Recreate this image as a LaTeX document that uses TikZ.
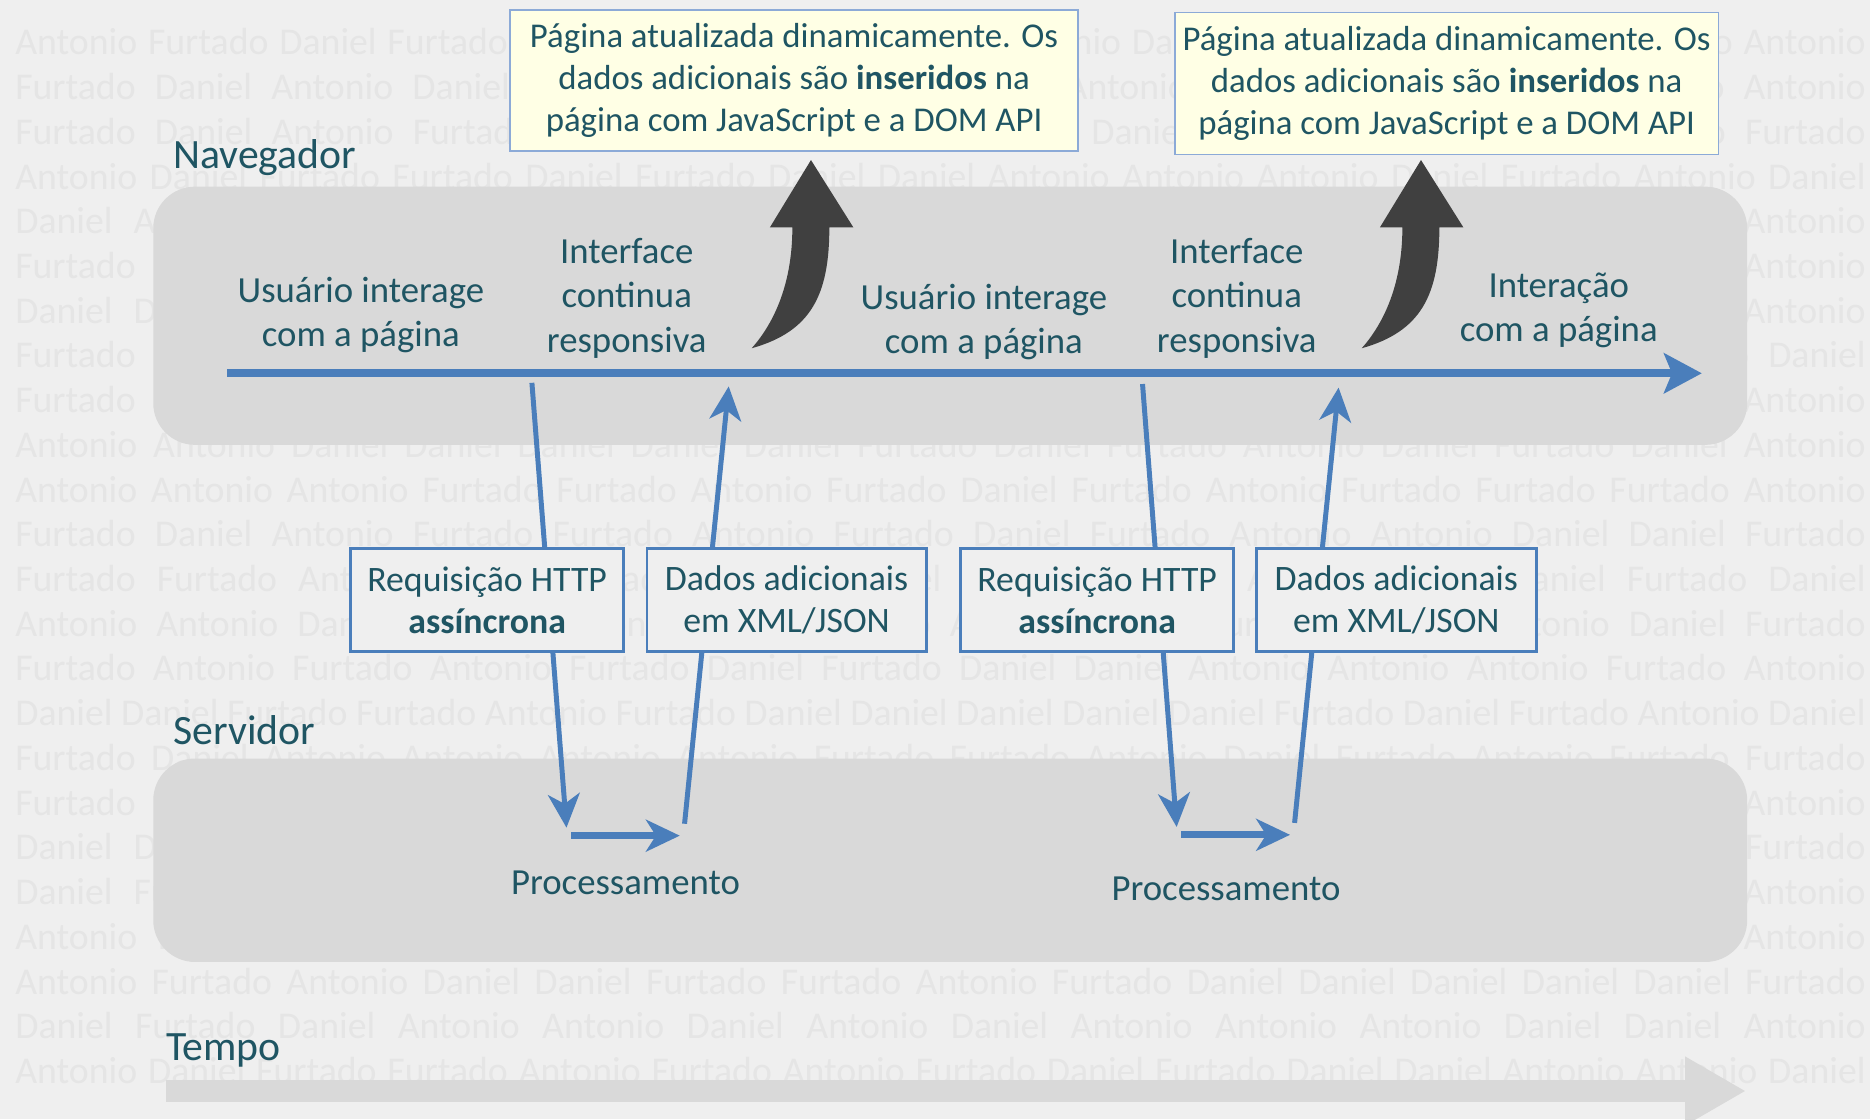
\documentclass[tikz,border=0pt]{standalone}
\usepackage{fontspec}
\setmainfont{Carlito}
\usetikzlibrary{arrows.meta, positioning}
\definecolor{bgcol}{RGB}{239,239,239}
\definecolor{bandcol}{RGB}{217,217,217}
\definecolor{wmcol}{RGB}{229,229,229}
\definecolor{txtcol}{RGB}{31,85,99}
\definecolor{bluecol}{RGB}{74,126,187}
\definecolor{notefill}{RGB}{255,255,229}
\definecolor{notedraw}{RGB}{140,170,215}
\definecolor{curvecol}{RGB}{64,64,64}

\begin{document}
\begin{tikzpicture}[x=0.6pt, y=-0.6pt,
    hdr/.style={text=txtcol, font=\fontsize{21}{25}\selectfont, inner sep=0, anchor=base west},
    lbl/.style={text=txtcol, font=\fontsize{18.5}{22.3}\selectfont, align=center, inner sep=0},
    wmark/.style={text=wmcol, font=\fontsize{19}{22}\selectfont, inner sep=0, anchor=base west},
    notebox/.style={draw=notedraw, line width=0.8pt, fill=notefill, text=txtcol,
        font=\fontsize{17.5}{21}\selectfont, align=center, inner sep=0},
    msgbox/.style={draw=bluecol, line width=1.5pt, fill=bgcol, text=txtcol,
        font=\fontsize{18}{21}\selectfont, align=center, inner sep=0, minimum height=52.3pt},
    msg/.style={draw=bluecol, line width=2.5pt, -{Stealth[length=17pt, width=16pt, inset=5pt]}},
    proc/.style={draw=bluecol, line width=3.4pt, -{Stealth[length=17pt, width=16pt, inset=5pt]}}]

    % background and watermark
    \fill[bgcol] (0,0) rectangle (1568,938.3);
    \useasboundingbox (0,0) rectangle (1568,938.3);
    \foreach \wrow [count=\i from 0] in {
        Antonio Furtado Daniel Furtado Daniel Antonio Daniel Furtado Antonio Daniel Antonio Furtado Daniel Furtado Antonio,
        Furtado Daniel Antonio Daniel Furtado Antonio Furtado Daniel Antonio Furtado Daniel Furtado Antonio Antonio,
        Furtado Daniel Antonio Furtado Daniel Antonio Antonio Furtado Daniel Furtado Daniel Antonio Furtado Furtado,
        Antonio Daniel Furtado Furtado Daniel Furtado Daniel Daniel Antonio Antonio Antonio Daniel Furtado Antonio Daniel,
        Daniel Antonio Furtado Daniel Antonio Furtado Daniel Furtado Antonio Daniel Furtado Daniel Furtado Antonio,
        Furtado Antonio Daniel Furtado Daniel Antonio Furtado Daniel Antonio Daniel Furtado Daniel Antonio Antonio,
        Daniel Daniel Furtado Antonio Furtado Daniel Antonio Furtado Daniel Antonio Furtado Daniel Furtado Antonio,
        Furtado Antonio Daniel Antonio Furtado Daniel Furtado Antonio Daniel Furtado Antonio Furtado Antonio Daniel,
        Furtado Daniel Antonio Furtado Antonio Daniel Furtado Daniel Antonio Furtado Daniel Antonio Furtado Antonio,
        Antonio Antonio Daniel Daniel Daniel Daniel Daniel Furtado Daniel Furtado Antonio Daniel Furtado Daniel Antonio,
        Antonio Antonio Antonio Furtado Furtado Antonio Furtado Daniel Furtado Antonio Furtado Furtado Furtado Antonio,
        Furtado Daniel Antonio Furtado Furtado Antonio Furtado Daniel Furtado Antonio Antonio Daniel Daniel Furtado,
        Furtado Furtado Antonio Daniel Furtado Antonio Daniel Furtado Antonio Antonio Daniel Daniel Furtado Daniel,
        Antonio Antonio Daniel Furtado Antonio Daniel Furtado Antonio Daniel Furtado Antonio Antonio Daniel Furtado,
        Furtado Antonio Furtado Antonio Furtado Daniel Furtado Daniel Daniel Antonio Antonio Antonio Furtado Antonio,
        Daniel Daniel Furtado Furtado Antonio Furtado Daniel Daniel Daniel Daniel Daniel Furtado Daniel Furtado Antonio Daniel,
        Furtado Daniel Antonio Antonio Antonio Antonio Furtado Furtado Antonio Daniel Furtado Antonio Furtado Furtado,
        Furtado Antonio Daniel Furtado Daniel Antonio Furtado Daniel Furtado Antonio Daniel Furtado Daniel Antonio,
        Daniel Daniel Antonio Furtado Antonio Daniel Furtado Antonio Daniel Antonio Furtado Daniel Antonio Furtado,
        Daniel Furtado Antonio Daniel Furtado Antonio Daniel Furtado Antonio Daniel Furtado Daniel Furtado Antonio,
        Antonio Daniel Furtado Antonio Daniel Furtado Antonio Daniel Furtado Antonio Daniel Furtado Daniel Antonio,
        Antonio Furtado Antonio Daniel Daniel Furtado Furtado Antonio Furtado Daniel Daniel Daniel Daniel Daniel Furtado,
        Daniel Furtado Daniel Antonio Antonio Daniel Antonio Daniel Antonio Antonio Antonio Daniel Daniel Antonio,
        Antonio Daniel Furtado Furtado Antonio Furtado Antonio Furtado Daniel Furtado Daniel Daniel Antonio Antonio Daniel}
        \node[wmark] (wm\i) at (12.5, 46+37.5*\i) {\makebox[931.2pt][s]{\wrow}};

    % bands
    \fill[bandcol, rounded corners=21pt] (128.5,156.5) rectangle (1465,373);
    \fill[bandcol, rounded corners=21pt] (128.5,636) rectangle (1465,806.6);
    \node[hdr] (nav) at (145,141) {Navegador};
    \node[hdr] (serv) at (145,624) {Servidor};
    \node[hdr] (tempo) at (139,889.3) {Tempo};

    % time axes
    \coordinate (tp0) at (139,914.8);
    \coordinate (tp1) at (1464,914.8);
    \draw[bandcol, line width=11pt, -{Triangle[length=30.6pt, width=32.4pt]}] (tp0) -- (tp1);
    \coordinate (tl0) at (190.5,313);
    \coordinate (tl1) at (1427,313);
    \draw[bluecol, line width=4pt, -{Stealth[length=19pt, width=20pt, inset=4pt]}] (tl0) -- (tl1);

    % curved arrows up to the notes
    \coordinate (cv1) at (630.3,292);
    \coordinate (cv2) at (1141.8,292);
    \foreach \c in {cv1, cv2}
        \fill[curvecol, shift={(\c)}] (0,0) .. controls (50,-14) and (65.1,-45) .. (65.1,-101.4)
            -- (85.2,-101.4) -- (49.7,-157.8) -- (15.3,-101.4) -- (34.1,-101.4)
            .. controls (34.1,-50) and (16,-18) .. (0,0) -- cycle;

    % messages
    \coordinate (rq1a) at (446,321);
    \coordinate (rq1b) at (475,694);
    \coordinate (pr1a) at (479,700.7);
    \coordinate (pr1b) at (570,700.7);
    \coordinate (rs1a) at (574,690.7);
    \coordinate (rs1b) at (611,324);
    \coordinate (rq2a) at (958,322);
    \coordinate (rq2b) at (986.6,693.4);
    \coordinate (pr2a) at (990.6,700);
    \coordinate (pr2b) at (1081.7,700);
    \coordinate (rs2a) at (1085.5,690);
    \coordinate (rs2b) at (1122.4,325);
    \draw[msg] (rq1a) -- (rq1b);
    \draw[proc] (pr1a) -- (pr1b);
    \draw[msg] (rs1a) -- (rs1b);
    \draw[msg] (rq2a) -- (rq2b);
    \draw[proc] (pr2a) -- (pr2b);
    \draw[msg] (rs2a) -- (rs2b);

    \node[msgbox, minimum width=137.4pt] (req1) at (408.5,503.1) {Requisição HTTP\\\textbf{assíncrona}};
    \node[msgbox, minimum width=140.4pt] (dat1) at (659.5,503.1) {Dados adicionais\\em XML/JSON};
    \node[msgbox, minimum width=137.4pt] (req2) at (920,503.1) {Requisição HTTP\\\textbf{assíncrona}};
    \node[msgbox, minimum width=140.7pt] (dat2) at (1170.8,503.1) {Dados adicionais\\em XML/JSON};

    % notes
    \node[notebox, minimum width=285.6pt, minimum height=70.8pt] (note1) at (665.8,67.5)
        {Página atualizada dinamicamente. Os\\dados adicionais são \textbf{inseridos} na\\página com JavaScript e a DOM API};
    \node[notebox, minimum width=273.6pt, minimum height=71.3pt] (note2) at (1213,70)
        {Página atualizada dinamicamente. Os\\dados adicionais são \textbf{inseridos} na\\página com JavaScript e a DOM API};

    % labels
    \node[lbl] (usr1) at (302.6,264) {Usuário interage\\com a página};
    \node[lbl] (ifc1) at (525.5,250) {Interface\\continua\\responsiva};
    \node[lbl] (usr2) at (825,270) {Usuário interage\\com a página};
    \node[lbl] (ifc2) at (1037,250) {Interface\\continua\\responsiva};
    \node[lbl] (inter) at (1307,260) {Interação\\com a página};
    \node[lbl] (proc1) at (524.5,740) {Processamento};
    \node[lbl] (proc2) at (1028,745) {Processamento};
\end{tikzpicture}
\end{document}
